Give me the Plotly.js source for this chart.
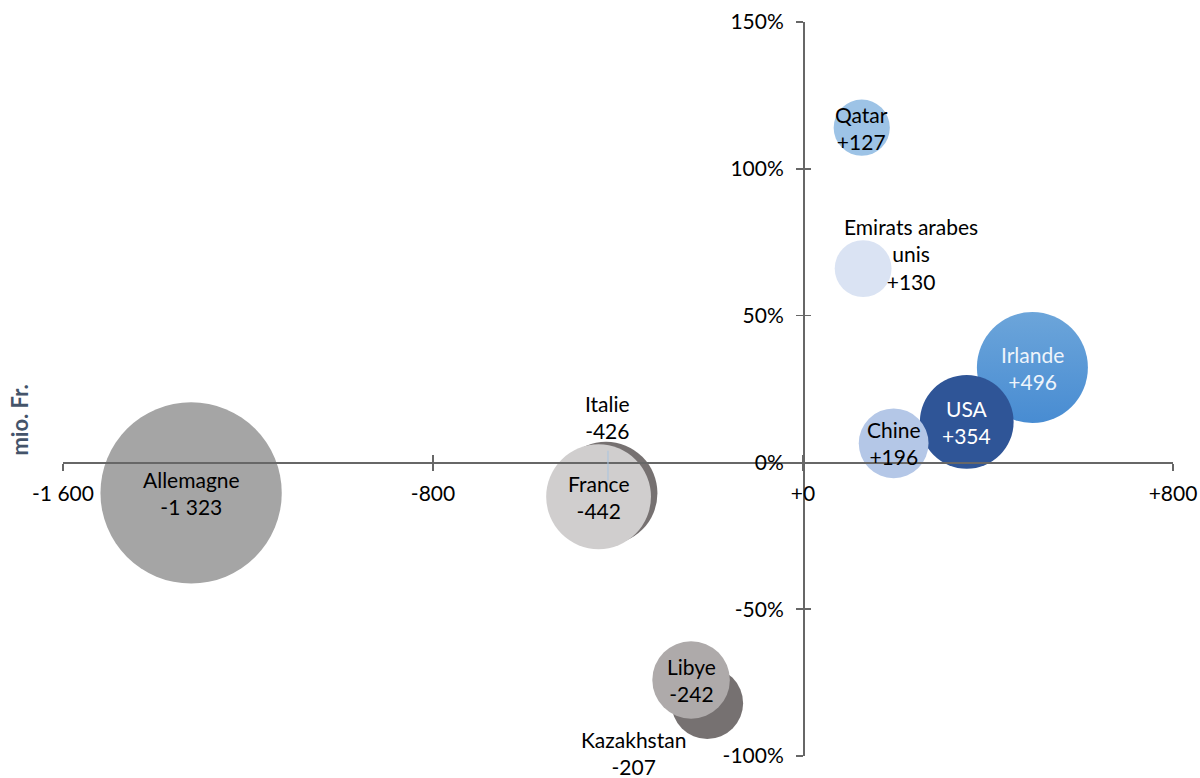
<!DOCTYPE html>
<html>
<head>
<meta charset="utf-8">
<script src="https://cdn.plot.ly/plotly-3.0.1.min.js"></script>
<style>
  html, body { margin: 0; padding: 0; background: #ffffff; }
  #chart { width: 1200px; height: 778px; }
</style>
</head>
<body>
<div id="chart"></div>
<script>
// ---- Data ----
var countries = ['Allemagne', 'Italie', 'France', 'Kazakhstan', 'Libye', 'Qatar',
                 'Emirats arabes unis', 'Irlande', 'USA', 'Chine'];
// change in mio. Fr. (x axis, also bubble size)
var changeMio = [-1323, -426, -442, -207, -242, 127, 130, 496, 354, 196];
// relative change in % (y axis)
var changePct = [-10.4, -10.5, -11.7, -82, -74.1, 114, 66, 32.3, 13.8, 6.5];
// value labels as printed
var valueLabels = ['-1 323', '-426', '-442', '-207', '-242', '+127', '+130', '+496', '+354', '+196'];

var xTickVals = [-1600, -800, 0, 800];
var xTickText = ['-1 600', '-800', '+0', '+800'];
var yTickVals = [-100, -50, 0, 50, 100, 150];
var yTickText = ['-100%', '-50%', '0%', '50%', '100%', '150%'];
var yAxisTitle = 'mio. Fr.';

// ---- Styles ----
var bubbleColors = ['#A5A5A5', '#767171', '#D0CECE', '#767171', '#AEAAAA', '#9DC3E6',
                    '#DAE3F3', '#6CA5DA', '#2F5597', '#B4C7E7'];
var gradientTypes = ['none', 'none', 'none', 'none', 'none', 'none',
                     'none', 'vertical', 'none', 'none'];
var gradientColors = ['#A5A5A5', '#767171', '#D0CECE', '#767171', '#AEAAAA', '#9DC3E6',
                      '#DAE3F3', '#488CD2', '#2F5597', '#B4C7E7'];
var labelColors = ['#000', '#000', '#000', '#000', '#000', '#000',
                   '#000', '#EEF4FB', '#FFFFFF', '#000'];
// label display: line breaks inside names
var labelBreaks = { 'Emirats arabes unis': 'Emirats arabes<br>unis' };
// pixel offsets of labels relative to the bubble centre
var labelShift = {
  'Italie': [2, 76],
  'Kazakhstan': [-74, -50],
  'Emirats arabes unis': [48, 15]
};
var FONT = 'Lato, "Open Sans", sans-serif';
var axisColor = '#676767';

var sizes = changeMio.map(function (v) { return Math.abs(v); });

var traces = [
  {
    type: 'scatter',
    mode: 'markers',
    x: changeMio,
    y: changePct,
    text: countries,
    hoverinfo: 'text',
    marker: {
      size: sizes,
      sizemode: 'area',
      sizeref: 0.0805,
      color: bubbleColors,
      gradient: { type: gradientTypes, color: gradientColors },
      opacity: 1,
      line: { width: 0 }
    },
    xaxis: 'x',
    yaxis: 'y',
    showlegend: false
  },
  // empty trace to host the overlay axes that draw the upper / right half of the crossing ticks
  { type: 'scatter', mode: 'markers', x: [], y: [], xaxis: 'x2', yaxis: 'y2', showlegend: false, hoverinfo: 'skip' }
];

var annotations = countries.map(function (name, i) {
  var shift = labelShift[name] || [0, 0];
  return {
    xref: 'x', yref: 'y',
    x: changeMio[i], y: changePct[i],
    text: (labelBreaks[name] || name) + '<br>' + valueLabels[i],
    showarrow: false,
    xshift: shift[0], yshift: shift[1],
    align: 'center',
    font: { family: FONT, size: 21, color: labelColors[i] }
  };
});

// leader line for Italie
var iIt = countries.indexOf('Italie');
annotations.push({
  xref: 'x', yref: 'y', axref: 'pixel', ayref: 'pixel',
  x: changeMio[iIt], y: changePct[iIt],
  ax: 0, ay: -44, text: '',
  showarrow: true, arrowhead: 0, arrowwidth: 1, arrowcolor: '#A9C4E0',
  standoff: 13, xshift: 2
});

// axis title
annotations.push({
  xref: 'paper', yref: 'paper',
  x: -0.0387, y: 0.457,
  text: '<b>' + yAxisTitle + '</b>',
  textangle: -90, showarrow: false,
  xanchor: 'center', yanchor: 'middle',
  font: { family: FONT, size: 22, color: '#44546A' }
});

var commonX = {
  range: [-1600, 800], anchor: 'free', position: 0.4,
  showgrid: false, zeroline: false, fixedrange: true,
  tickvals: xTickVals, ticktext: xTickText,
  ticklen: 7, tickwidth: 1.5, tickcolor: axisColor
};
var commonY = {
  range: [-100, 150], anchor: 'free', position: 1600 / 2400,
  showgrid: false, zeroline: false, fixedrange: true,
  tickvals: yTickVals, ticktext: yTickText,
  ticklen: 7, tickwidth: 1.5, tickcolor: axisColor
};

var layout = {
  width: 1200, height: 778,
  margin: { l: 63, r: 27, t: 22, b: 22 },
  paper_bgcolor: '#ffffff', plot_bgcolor: '#ffffff',
  showlegend: false,
  font: { family: FONT, size: 20, color: '#000000' },
  xaxis: Object.assign({}, commonX, {
    showline: true, linecolor: axisColor, linewidth: 1.75,
    ticks: 'outside', ticklabelstandoff: 5,
    tickfont: { family: FONT, size: 21, color: '#000' }
  }),
  yaxis: Object.assign({}, commonY, {
    showline: true, linecolor: axisColor, linewidth: 1.75,
    ticks: 'outside', ticklabelstandoff: 8,
    tickfont: { family: FONT, size: 21, color: '#000' }
  }),
  xaxis2: Object.assign({}, commonX, {
    overlaying: 'x', showline: false, ticks: 'inside', showticklabels: false
  }),
  yaxis2: Object.assign({}, commonY, {
    overlaying: 'y', showline: false, ticks: 'inside', showticklabels: false
  }),
  annotations: annotations
};

Plotly.newPlot('chart', traces, layout, { displayModeBar: false, staticPlot: true });
</script>
</body>
</html>
